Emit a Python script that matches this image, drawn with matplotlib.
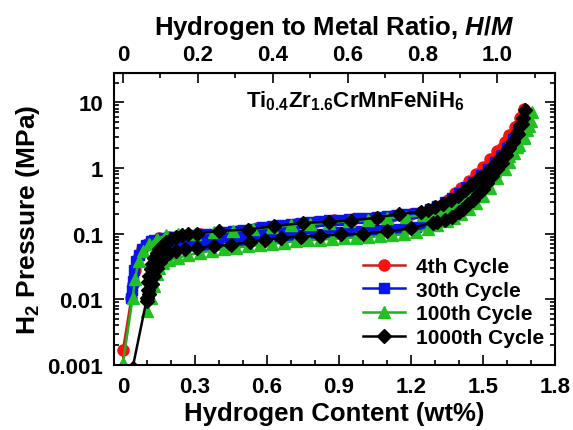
import matplotlib
matplotlib.use("Agg")
import matplotlib.pyplot as plt
from matplotlib.ticker import MultipleLocator, FixedLocator, FixedFormatter, LogLocator, NullFormatter

plt.rcParams['font.family'] = ['Liberation Sans', 'DejaVu Sans']
plt.rcParams['font.weight'] = 'bold'
plt.rcParams['mathtext.fontset'] = 'custom'
plt.rcParams['mathtext.rm'] = 'Liberation Sans:bold'
plt.rcParams['mathtext.it'] = 'Liberation Sans:bold:italic'
plt.rcParams['mathtext.bf'] = 'Liberation Sans:bold'
plt.rcParams['mathtext.default'] = 'rm'

# ---- data; each series = absorption going up, then desorption coming back
x_4th = [0.0, 0.035, 0.04, 0.05, 0.065, 0.08, 0.1, 0.12, 0.15, 0.19, 0.25, 0.32, 0.4, 0.48, 0.56, 0.64,
         0.72, 0.8, 0.88, 0.96, 1.04, 1.12, 1.2, 1.27, 1.30, 1.33, 1.355, 1.385, 1.41, 1.44, 1.47, 1.50,
         1.53, 1.56, 1.59, 1.61, 1.635, 1.655, 1.672,
         1.66, 1.64, 1.61, 1.58, 1.55, 1.52, 1.49, 1.46, 1.43, 1.40, 1.37, 1.34, 1.30, 1.26,
         1.18, 1.1, 1.02, 0.94, 0.86, 0.78, 0.7, 0.62, 0.54, 0.46, 0.38, 0.3, 0.22, 0.17]
y_4th = [0.0017, 0.0105, 0.017, 0.028, 0.045, 0.058, 0.07, 0.078, 0.085, 0.089, 0.092, 0.097, 0.102, 0.11, 0.12, 0.13,
         0.142, 0.152, 0.16, 0.168, 0.175, 0.184, 0.198, 0.21, 0.23, 0.27, 0.33, 0.41, 0.5, 0.63, 0.8, 1.02,
         1.35, 1.8, 2.5, 3.2, 4.2, 5.8, 8.0,
         6.0, 4.4, 3.0, 2.0, 1.4, 1.0, 0.72, 0.53, 0.4, 0.31, 0.24, 0.2, 0.165, 0.14,
         0.122, 0.115, 0.11, 0.106, 0.102, 0.098, 0.094, 0.088, 0.083, 0.077, 0.071, 0.066, 0.06, 0.055]

x_30th = [0.033, 0.036, 0.04, 0.046, 0.055, 0.067, 0.08, 0.096, 0.115, 0.13, 0.16, 0.19, 0.22, 0.26, 0.30, 0.34,
          0.38, 0.42, 0.46, 0.50, 0.54, 0.58, 0.62, 0.66, 0.70, 0.74, 0.78, 0.82, 0.86, 0.90, 0.94, 0.98,
          1.02, 1.06, 1.10, 1.14, 1.18, 1.22, 1.25, 1.28, 1.31, 1.34, 1.37, 1.40, 1.43, 1.46, 1.49, 1.52,
          1.55, 1.58, 1.61, 1.64, 1.66, 1.68,
          1.665, 1.645, 1.625, 1.60, 1.575, 1.55, 1.525, 1.50, 1.47, 1.44, 1.41, 1.38, 1.34, 1.30, 1.26,
          1.22, 1.18, 1.14, 1.10, 1.06, 1.02, 0.98, 0.94, 0.90, 0.86, 0.82, 0.78, 0.74, 0.70, 0.66,
          0.62, 0.58, 0.54, 0.50, 0.46, 0.42, 0.38, 0.34, 0.30, 0.26, 0.22, 0.18, 0.16]
y_30th = [0.0106, 0.014, 0.019, 0.028, 0.038, 0.048, 0.058, 0.068, 0.076, 0.081, 0.086, 0.088, 0.09, 0.092, 0.095, 0.098,
          0.1, 0.104, 0.108, 0.113, 0.118, 0.124, 0.13, 0.136, 0.142, 0.147, 0.152, 0.156, 0.16, 0.163, 0.166, 0.17,
          0.174, 0.178, 0.183, 0.19, 0.196, 0.205, 0.215, 0.235, 0.26, 0.3, 0.35, 0.42, 0.51, 0.62, 0.77, 0.96,
          1.22, 1.6, 2.1, 3.0, 4.2, 6.5,
          5.2, 3.8, 2.8, 2.0, 1.5, 1.1, 0.84, 0.64, 0.48, 0.37, 0.29, 0.23, 0.18, 0.155, 0.14,
          0.128, 0.122, 0.118, 0.115, 0.112, 0.11, 0.108, 0.106, 0.104, 0.102, 0.1, 0.098, 0.096, 0.094, 0.091,
          0.088, 0.086, 0.083, 0.08, 0.077, 0.074, 0.071, 0.068, 0.066, 0.063, 0.06, 0.057, 0.052]

x_100th = [0.0, 0.04, 0.05, 0.065, 0.085, 0.11, 0.14, 0.18, 0.23, 0.3, 0.38, 0.46, 0.54, 0.62, 0.7, 0.78,
           0.86, 0.94, 1.02, 1.1, 1.18, 1.25, 1.28, 1.31, 1.34, 1.37, 1.40, 1.43, 1.46, 1.49, 1.52, 1.55,
           1.58, 1.61, 1.64, 1.67, 1.69, 1.705,
           1.70, 1.685, 1.67, 1.65, 1.63, 1.61, 1.59, 1.56, 1.53, 1.50, 1.47, 1.44, 1.41, 1.38, 1.35, 1.31,
           1.27, 1.22, 1.17, 1.12, 1.07, 1.02, 0.97, 0.92, 0.87, 0.82, 0.77, 0.72, 0.67, 0.62, 0.57, 0.52,
           0.47, 0.42, 0.37, 0.32, 0.27, 0.23, 0.19, 0.165, 0.15, 0.14, 0.13, 0.115, 0.1]
y_100th = [0.00107, 0.0105, 0.02, 0.038, 0.055, 0.07, 0.083, 0.094, 0.097, 0.1, 0.104, 0.11, 0.117, 0.125, 0.133, 0.14,
           0.147, 0.153, 0.16, 0.17, 0.18, 0.19, 0.2, 0.22, 0.24, 0.27, 0.31, 0.37, 0.45, 0.56, 0.7, 0.9,
           1.15, 1.5, 2.1, 3.0, 4.3, 7.0,
           5.2, 3.8, 2.9, 2.2, 1.7, 1.25, 0.98, 0.7, 0.5, 0.37, 0.29, 0.24, 0.2, 0.175, 0.155, 0.135,
           0.118, 0.104, 0.098, 0.094, 0.091, 0.089, 0.087, 0.085, 0.083, 0.081, 0.079, 0.076, 0.073, 0.07, 0.067, 0.064,
           0.061, 0.058, 0.055, 0.051, 0.047, 0.043, 0.04, 0.036, 0.03, 0.024, 0.016, 0.0106, 0.0067]

x_1000th = [0.04, 0.1, 0.103, 0.106, 0.11, 0.115, 0.12, 0.13, 0.14, 0.15, 0.165, 0.18, 0.2, 0.22, 0.245, 0.27,
            0.31, 0.4, 0.52, 0.63, 0.75, 0.86, 0.95, 1.06, 1.15, 1.24, 1.27, 1.30, 1.335, 1.365, 1.395, 1.425,
            1.455, 1.485, 1.515, 1.545, 1.575, 1.605, 1.625, 1.645, 1.662, 1.675,
            1.665, 1.655, 1.64, 1.625, 1.61, 1.595, 1.578, 1.558, 1.538, 1.518, 1.498, 1.478, 1.458, 1.438, 1.418,
            1.398, 1.37, 1.34, 1.31, 1.29, 1.2, 1.1, 1.0, 0.91, 0.82, 0.74, 0.66, 0.59, 0.53, 0.45, 0.38,
            0.31, 0.26, 0.22, 0.19, 0.17, 0.155, 0.14, 0.13, 0.12, 0.11, 0.1]
y_1000th = [0.0009, 0.0106, 0.014, 0.018, 0.023, 0.029, 0.035, 0.042, 0.05, 0.058, 0.066, 0.074, 0.082, 0.089, 0.095, 0.099,
            0.1, 0.11, 0.115, 0.13, 0.145, 0.152, 0.158, 0.175, 0.2, 0.216, 0.23, 0.25, 0.28, 0.32, 0.38, 0.46,
            0.56, 0.7, 0.88, 1.12, 1.45, 1.95, 2.5, 3.3, 4.6, 7.5,
            5.8, 4.5, 3.4, 2.6, 2.0, 1.55, 1.2, 0.95, 0.75, 0.6, 0.48, 0.4, 0.33, 0.28, 0.24,
            0.21, 0.18, 0.16, 0.15, 0.147, 0.12, 0.108, 0.1, 0.097, 0.093, 0.09, 0.087, 0.08, 0.075, 0.068, 0.064,
            0.061, 0.058, 0.055, 0.05, 0.044, 0.037, 0.03, 0.023, 0.017, 0.012, 0.0095]

labels = ['4th Cycle', '30th Cycle', '100th Cycle', '1000th Cycle']
wt_per_hm = 1.56  # wt% corresponding to H/M = 1

fig = plt.figure(figsize=(5.73, 4.31), dpi=100)
ax = fig.add_axes([0.199, 0.151, 0.7696, 0.6775])

ax.plot(x_4th, y_4th, '-o', color='#c8201c', mfc='#ff1010', mec='#ff1010', ms=8, lw=1.8, label=labels[0])
ax.plot(x_30th, y_30th, '-s', color='#0a14e6', mfc='#0a14f0', mec='#0a14f0', ms=7, lw=1.8, label=labels[1])
ax.plot(x_100th, y_100th, '-^', color='#20b020', mfc='#22c022', mec='#22c022', ms=8, lw=1.8, label=labels[2])
ax.plot(x_1000th, y_1000th, '-D', color='black', ms=7, lw=1.8, label=labels[3])

ax.set_yscale('log')
ax.set_xlim(-0.0375, 1.8)
ax.set_ylim(0.001, 28)

ax.xaxis.set_major_locator(FixedLocator([0, 0.3, 0.6, 0.9, 1.2, 1.5, 1.8]))
ax.xaxis.set_major_formatter(FixedFormatter(['0', '0.3', '0.6', '0.9', '1.2', '1.5', '1.8']))
ax.xaxis.set_minor_locator(MultipleLocator(0.1))
ax.yaxis.set_major_locator(FixedLocator([0.001, 0.01, 0.1, 1, 10]))
ax.yaxis.set_major_formatter(FixedFormatter(['0.001', '0.01', '0.1', '1', '10']))
ax.yaxis.set_minor_locator(LogLocator(base=10, subs=range(2, 10)))
ax.yaxis.set_minor_formatter(NullFormatter())

ax.tick_params(which='both', direction='in', right=True, labelsize=16, width=1.2)
ax.tick_params(which='major', length=7, pad=8)
ax.tick_params(which='minor', length=3.5)
for s in ax.spines.values():
    s.set_linewidth(1.5)

top = ax.secondary_xaxis('top', functions=(lambda x: x / wt_per_hm, lambda h: h * wt_per_hm))
top.xaxis.set_major_locator(FixedLocator([0, 0.2, 0.4, 0.6, 0.8, 1.0]))
top.xaxis.set_major_formatter(FixedFormatter(['0', '0.2', '0.4', '0.6', '0.8', '1.0']))
top.xaxis.set_minor_locator(MultipleLocator(0.1))
top.tick_params(which='both', direction='in', labelsize=16, width=1.2)
top.tick_params(which='major', length=7, pad=6)
top.tick_params(which='minor', length=3.5)
top.set_xlabel('Hydrogen to Metal Ratio, $\\mathit{H/M}$', fontsize=18.5, fontweight='bold', labelpad=7)

ax.set_xlabel('Hydrogen Content (wt%)', fontsize=18.5, fontweight='bold', labelpad=3)
ax.set_ylabel('H$_2$ Pressure (MPa)', fontsize=19, fontweight='bold', labelpad=4)

ax.text(0.547, 0.905, 'Ti$_{0.4}$Zr$_{1.6}$CrMnFeNiH$_6$', transform=ax.transAxes,
        ha='center', va='center', fontsize=16, fontweight='bold')

ax.legend(loc='lower right', bbox_to_anchor=(1.012, 0.005), frameon=False, fontsize=15,
          handlelength=2.0, handletextpad=0.5, labelspacing=0.22, borderpad=0.3)

fig.savefig('out.png', dpi=100)
